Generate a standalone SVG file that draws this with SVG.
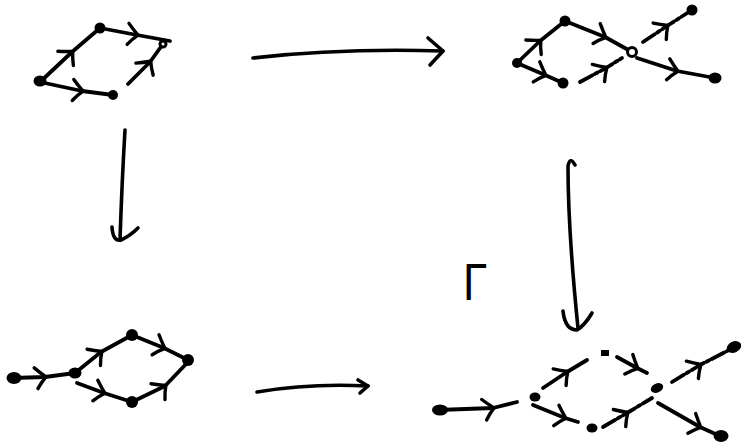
<svg xmlns="http://www.w3.org/2000/svg" width="741" height="446" viewBox="0 0 741 446">
<style>
.e{fill:none;stroke:#000;stroke-width:3.8;stroke-linecap:round;stroke-linejoin:round;marker-mid:url(#chev)}
.d{stroke-dasharray:14,3,3,3}
.n{fill:#000}
.o{fill:#fff;stroke:#000;stroke-width:3}
.a{fill:none;stroke:#000;stroke-width:3.6;stroke-linecap:round;stroke-linejoin:round}
</style>
<defs>
<marker id="chev" markerUnits="userSpaceOnUse" markerWidth="30" markerHeight="30" refX="15" refY="15" orient="auto" viewBox="0 0 30 30" overflow="visible">
<path d="M5,5 Q10,10 16,15 Q11,20 7,26" fill="none" stroke="#000" stroke-width="3.4" stroke-linecap="round"/>
</marker>
</defs>
<rect width="741" height="446" fill="#fff"/>
<g id="fig-top-left">
<path class="e" d="M40,82 L72,52 L100,28"/>
<path class="e" d="M100,28 L137,35 L170,41"/>
<path class="e" d="M40,82 L82,91 L113,95"/>
<path class="e" d="M128,84 L150,62 L163,44"/>
<ellipse class="n" cx="40" cy="81" rx="6.5" ry="5.5"/>
<circle class="n" cx="100" cy="28" r="5.5"/>
<circle class="o" cx="163" cy="44" r="3"/>
<circle class="n" cx="113" cy="95" r="5"/>
</g>
<g id="fig-top-right">
<path class="e" d="M517,63 L540,41 L565,21"/>
<path class="e" d="M565,21 L605,37 L632,52"/>
<path class="e" d="M517,63 L545,75 L563,83"/>
<path class="e d" d="M580,82 L606,68 L622,58"/>
<path class="e d" d="M643,42 L667,26 L692,10"/>
<path class="e" d="M637,58 L677,71 L715,78"/>
<circle class="n" cx="517" cy="63" r="5"/>
<circle class="n" cx="565" cy="21" r="5.5"/>
<circle class="o" cx="632" cy="52" r="4.5"/>
<circle class="n" cx="563" cy="83" r="5.5"/>
<circle class="n" cx="692" cy="10" r="5.5"/>
<ellipse class="n" cx="715" cy="78" rx="6.5" ry="5.5"/>
</g>
<g id="fig-bottom-left">
<path class="e" d="M13,378 L45,377 L75,373"/>
<path class="e" d="M75,373 L101,352 L132,335"/>
<path class="e" d="M132,335 L164,348 L188,360"/>
<path class="e" d="M77,383 L104,393 L132,402"/>
<path class="e" d="M132,402 L165,386 L188,362"/>
<ellipse class="n" cx="14" cy="378" rx="7.5" ry="6"/>
<ellipse class="n" cx="75" cy="373" rx="6.5" ry="5.5"/>
<circle class="n" cx="132" cy="335" r="6"/>
<circle class="n" cx="188" cy="360" r="6"/>
<circle class="n" cx="132" cy="402" r="6"/>
</g>
<g id="fig-bottom-right">
<path class="e" d="M438,410 L493,408 L517,402"/>
<path class="e" d="M543,388 L567,372 L587,360"/>
<path class="e" d="M617,357 L637,368 L647,373"/>
<path class="e" d="M533,405 L565,418 L578,422"/>
<path class="e d" d="M603,427 L627,413 L652,398"/>
<path class="e d" d="M672,382 L700,365 L735,347"/>
<path class="e" d="M658,403 L700,427 L722,437"/>
<ellipse class="n" cx="440" cy="410" rx="8" ry="5.5"/>
<ellipse class="n" cx="535" cy="397" rx="5.5" ry="4.5"/>
<rect class="n" x="601" y="350" width="8" height="6"/>
<ellipse class="n" cx="592" cy="428" rx="5.5" ry="4.5"/>
<ellipse class="n" cx="657" cy="388" rx="6.5" ry="4.5" transform="rotate(-25 657 388)"/>
<ellipse class="n" cx="734" cy="347" rx="7.5" ry="5.5" transform="rotate(-25 734 347)"/>
<ellipse class="n" cx="721" cy="436" rx="7.5" ry="6"/>
</g>
<g id="connectors">
<path class="a" d="M253,58 Q340,48 443,51"/>
<path class="a" d="M428,38 L443,51 L430,65"/>
<path class="a" d="M125,130 Q122,180 120,240"/>
<path class="a" d="M112,227 Q113,242 121,240 Q130,236 138,228"/>
<path class="a" d="M575,165 Q570,156 568,166 Q568,230 578,328"/>
<path class="a" d="M563,311 Q565,330 577,330 Q585,325 592,313"/>
<path class="a" d="M257,392 Q310,383 368,386"/>
<path class="a" d="M358,380 L368,386 L360,393"/>
</g>
<text transform="translate(463 300) scale(0.85 1)" font-family="Liberation Sans, sans-serif" font-size="52">Γ</text>
</svg>
